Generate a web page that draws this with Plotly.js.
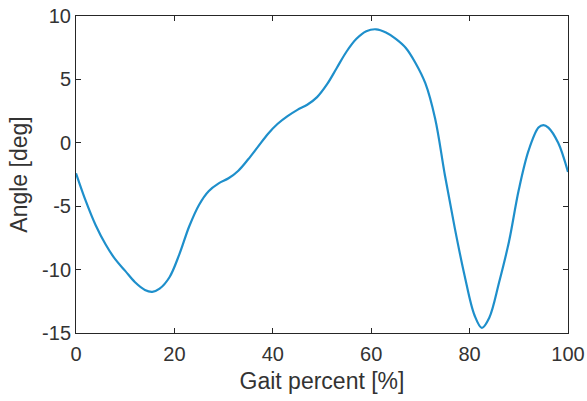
<!DOCTYPE html>
<html>
<head>
<meta charset="utf-8">
<script src="https://cdn.plot.ly/plotly-3.0.1.min.js"></script>
<style>html,body{margin:0;padding:0;background:#fff;}#chart{width:587px;height:401px;}</style>
</head>
<body>
<div id="chart"></div>
<script>
const gaitPercent = [0, 2, 4, 6, 8, 10, 12, 14, 15.5, 17, 19, 21, 23, 25, 27, 29, 31, 33, 35, 37, 39, 41, 43, 45, 47, 49, 51, 53, 55, 57, 59, 61, 63, 65, 67, 69, 71, 73, 75, 77, 79, 81, 82.5, 84, 86, 88, 90, 92, 94, 95, 96, 98, 100];
const angleDeg = [-2.4, -4.6, -6.5, -8.0, -9.2, -10.1, -11.0, -11.6, -11.75, -11.5, -10.6, -8.8, -6.6, -4.9, -3.8, -3.2, -2.8, -2.2, -1.3, -0.3, 0.7, 1.5, 2.1, 2.6, 3.0, 3.6, 4.6, 5.9, 7.2, 8.2, 8.8, 8.95, 8.7, 8.2, 7.5, 6.3, 4.7, 1.9, -2.6, -6.75, -10.5, -13.6, -14.6, -13.8, -11.0, -7.8, -3.7, -0.6, 1.2, 1.4, 1.2, 0.0, -2.3];
const xTicks = [0, 20, 40, 60, 80, 100];
const yTicks = [-15, -10, -5, 0, 5, 10];

const axisColor = '#262626';
const textColor = '#333333';
const fontFam = 'Liberation Sans, Arial, sans-serif';

Plotly.newPlot('chart', [{
  x: gaitPercent,
  y: angleDeg,
  type: 'scatter',
  mode: 'lines',
  line: {color: '#1e8fcb', width: 2.2, shape: 'spline', smoothing: 1},
  hoverinfo: 'skip'
}], {
  width: 587,
  height: 401,
  margin: {l: 76, r: 19, t: 16, b: 68},
  paper_bgcolor: '#fff',
  plot_bgcolor: '#fff',
  showlegend: false,
  font: {family: fontFam, size: 20, color: textColor},
  xaxis: {
    range: [0, 100],
    tickvals: xTicks,
    ticktext: xTicks.map(String),
    ticks: 'inside',
    ticklen: 5,
    tickcolor: axisColor,
    ticklabelstandoff: 3,
    showgrid: false,
    zeroline: false,
    showline: true,
    linecolor: axisColor,
    linewidth: 1,
    mirror: 'ticks',
    tickfont: {size: 20, color: textColor},
    title: {text: 'Gait percent [%]', font: {size: 23, color: textColor}, standoff: 8}
  },
  yaxis: {
    range: [-15, 10],
    tickvals: yTicks,
    ticktext: yTicks.map(String),
    ticks: 'inside',
    ticklen: 5,
    tickcolor: axisColor,
    showgrid: false,
    zeroline: false,
    showline: true,
    linecolor: axisColor,
    linewidth: 1,
    mirror: 'ticks',
    tickfont: {size: 20, color: textColor},
    title: {text: 'Angle [deg]', font: {size: 23, color: textColor}, standoff: 8}
  }
}, {displayModeBar: false, staticPlot: true});
</script>
</body>
</html>
